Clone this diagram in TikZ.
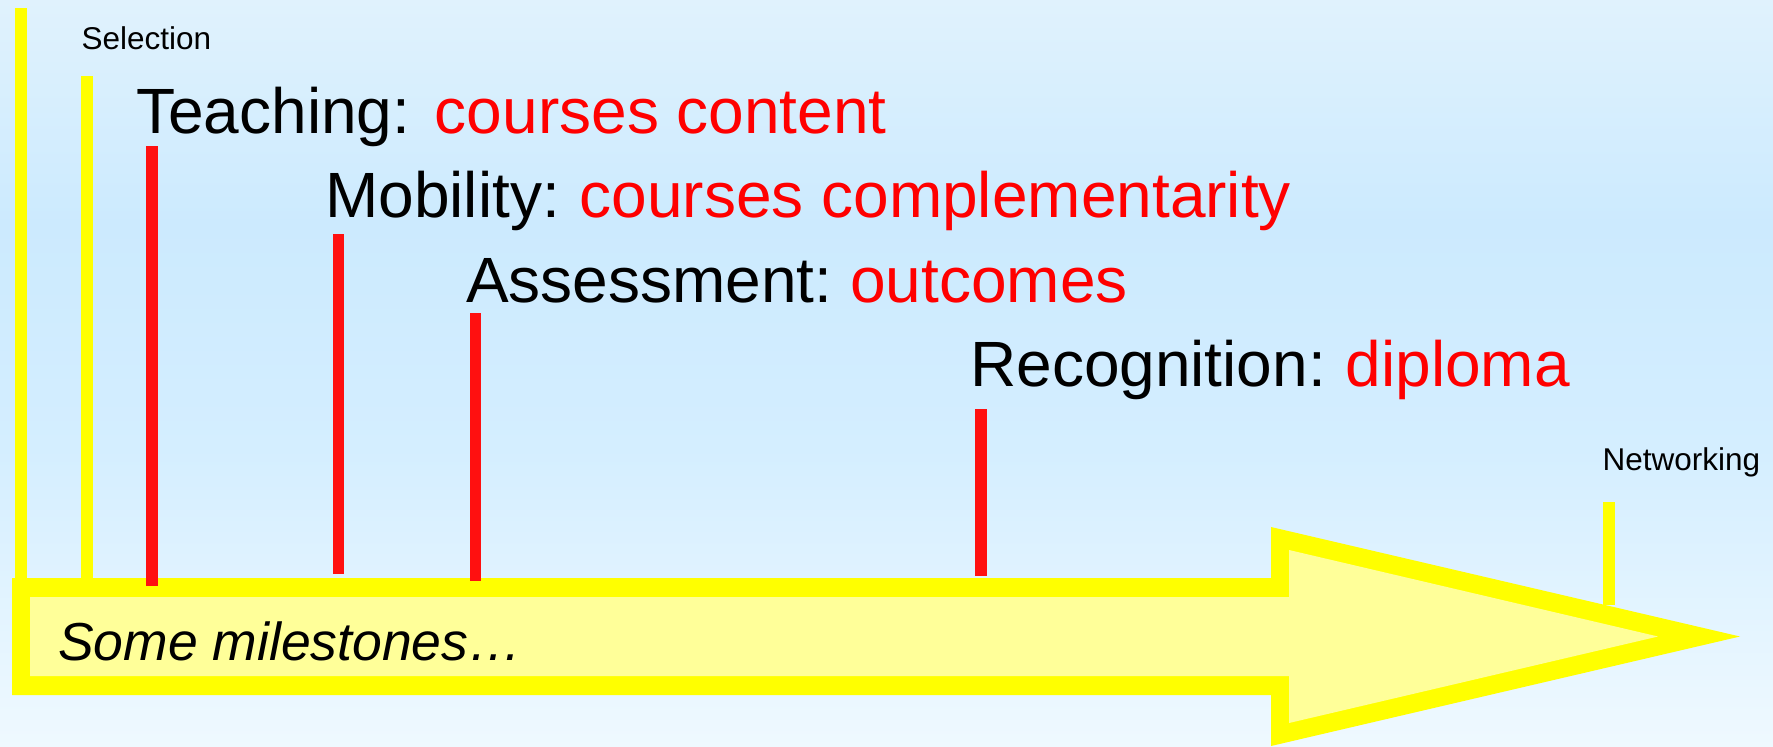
\documentclass[tikz,border=0pt]{standalone}
\usepackage{fontspec}
\setmainfont{Liberation Sans}
\definecolor{bgtop}{HTML}{E0F2FD}
\definecolor{bgmid}{HTML}{CCEAFE}
\definecolor{bglow}{HTML}{D4EEFF}
\definecolor{bgbot}{HTML}{EFF9FF}
\definecolor{arrowrim}{HTML}{FFFF00}
\definecolor{arrowin}{HTML}{FFFF99}
\definecolor{barred}{HTML}{FF1010}
\definecolor{txtred}{HTML}{FF0000}
\pgfdeclareverticalshading{skybg}{100bp}{color(0bp)=(bgbot); color(25bp)=(bgbot); color(45bp)=(bglow); color(60bp)=(bgmid); color(75bp)=(bgtop); color(100bp)=(bgtop)}
\tikzset{
  ybar/.style={fill=arrowrim},
  rbar/.style={fill=barred},
  lbl/.style={inner sep=0pt, anchor=base west, text=black},
  big/.style={lbl, font=\frenchspacing\fontsize{64}{64}\selectfont},
  small/.style={lbl, font=\fontsize{31.5}{31.5}\selectfont},
}
\begin{document}
\begin{tikzpicture}[x=1pt,y=-1pt]
\useasboundingbox (0,0) rectangle (1773,747);
\shade[shading=skybg] (0,0) rectangle (1773,747);

% big arrow
\fill[arrowrim] (12,578) -- (1271,578) -- (1271,527) -- (1740,636.5) -- (1271,746) -- (1271,695) -- (12,695) -- cycle;
\fill[arrowin] (30,597) -- (1289,597) -- (1289,550) -- (1658,636.5) -- (1289,723) -- (1289,676) -- (30,676) -- cycle;

% milestone bars
\fill[ybar] (15,8) rectangle (27,580);
\fill[ybar] (81,76) rectangle (93,580);
\fill[rbar] (146,146) rectangle (158,586);
\fill[rbar] (333,234) rectangle (344,574);
\fill[rbar] (470,313) rectangle (481,581);
\fill[rbar] (975,409) rectangle (987,576);
\fill[ybar] (1603,502) rectangle (1615,605);

% labels
\node[small] (sel) at (81.5,49) {Selection};
\node[big] (teach) at (136,133) {Teaching:\hspace{7pt} \textcolor{txtred}{courses content}};
\node[big] (mob) at (325,217) {Mobility:\hspace{2pt} \textcolor{txtred}{courses complementarity}};
\node[big] (ass) at (466,302) {Assessment: \textcolor{txtred}{outcomes}};
\node[big] (rec) at (970,386) {Recognition:\hspace{2pt} \textcolor{txtred}{diploma}};
\node[small] (net) at (1602.5,470) {Networking};
\node[lbl, font=\fontsize{53.5}{53.5}\selectfont\itshape] (ms) at (58,660) {Some milestones…};
\end{tikzpicture}
\end{document}
